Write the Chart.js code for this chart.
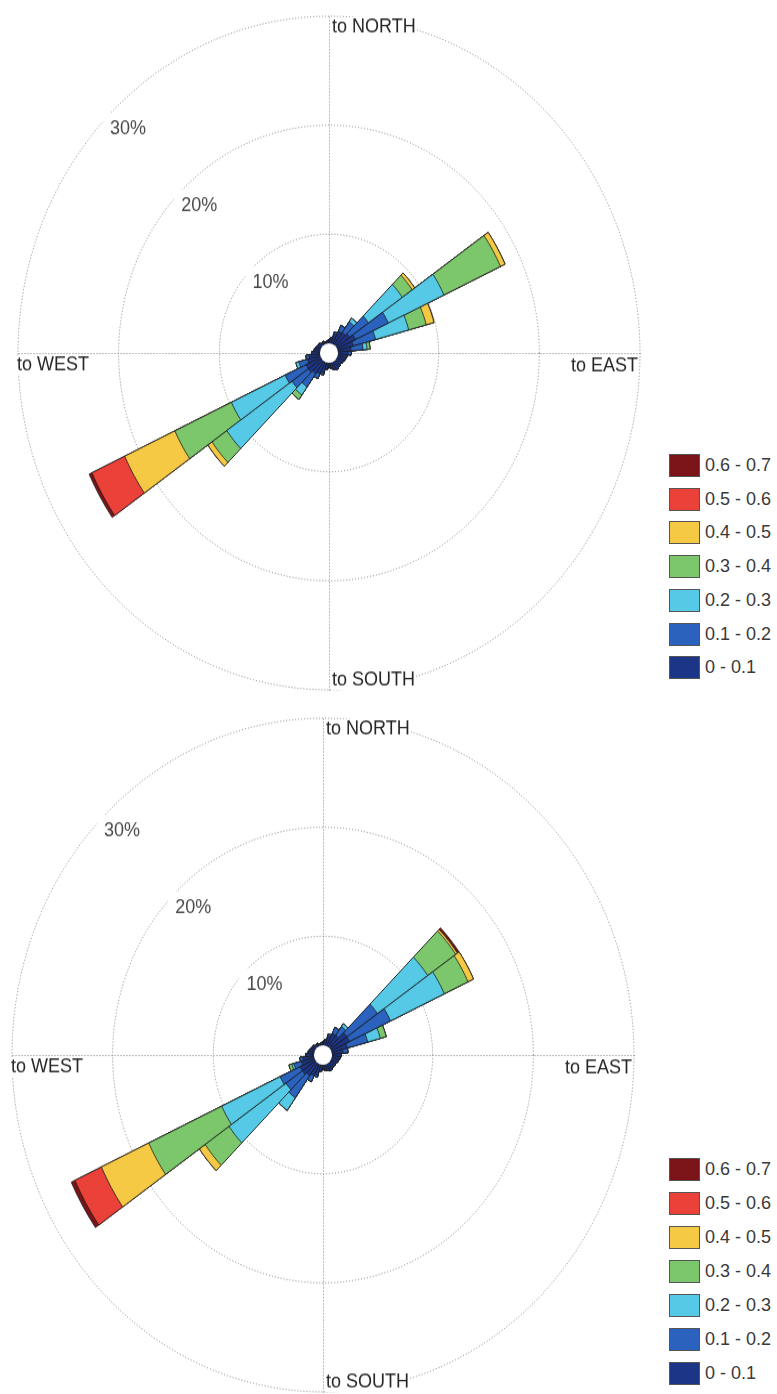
<!DOCTYPE html>
<html>
<head>
<meta charset="utf-8">
<script src="https://cdn.jsdelivr.net/npm/chart.js@4.4.1/dist/chart.umd.min.js"></script>
<style>
    html, body { margin: 0; padding: 0; background: #fff; }
    body { width: 777px; height: 1394px; position: relative; overflow: hidden; font-family: "Liberation Sans", Arial, sans-serif; }
    .rose { position: absolute; width: 640px; height: 640px; transform: scaleY(1.083); transform-origin: 320px 320px; }
    .rose canvas { display: block; }
    .legend { position: absolute; left: 669px; width: 108px; }
    .legend-row { position: absolute; left: 0; height: 23px; white-space: nowrap; }
    .legend-box { position: absolute; left: 0; top: 0; width: 29px; height: 21px; border: 1px solid #555; }
    .legend-text { position: absolute; left: 36px; top: 0; line-height: 23px; font-size: 18px; color: #3a3a3a; }
</style>
</head>
<body>
<div class="rose" style="left:9px; top:33px;"><canvas id="roseTop" width="640" height="640"></canvas></div>
<div class="rose" style="left:3px; top:735px;"><canvas id="roseBottom" width="640" height="640"></canvas></div>
<div class="legend" id="legendTop" style="top:454px;"></div>
<div class="legend" id="legendBottom" style="top:1158px;"></div>
<script>
// direction the wind blows to, degrees clockwise from north
const directions = [0, 10, 20, 30, 40, 50, 60, 70, 80, 90, 100, 110, 120, 130, 140, 150, 160, 170,
    180, 190, 200, 210, 220, 230, 240, 250, 260, 270, 280, 290, 300, 310, 320, 330, 340, 350];
const speedBins = ['0 - 0.1', '0.1 - 0.2', '0.2 - 0.3', '0.3 - 0.4', '0.4 - 0.5', '0.5 - 0.6', '0.6 - 0.7'];
const binColors = ['#1d3587', '#2a62bd', '#55c9e6', '#7cc76c', '#f6c945', '#ea4139', '#7a1418'];
const tickValues = [10, 20, 30];
const compassLabels = ['to NORTH', 'to EAST', 'to SOUTH', 'to WEST'];

// frequency (%) per direction and speed bin - upper rose
const topBin1 = [0.3, 0.5, 0.9, 1.3, 1.4, 1.6, 2.0, 1.6, 1.3, 1.0, 0.9, 0.8, 0.7, 0.6, 0.7, 0.8, 0.7, 0.5,
    0.4, 0.6, 1.0, 1.2, 1.4, 1.6, 1.6, 1.3, 1.1, 0.8, 0.6, 0.5, 0.4, 0.4, 0.3, 0.3, 0.2, 0.2];
const topBin2 = [0, 0, 0.2, 0.6, 1.2, 2.3, 3.6, 2.3, 1.2, 0.3, 0, 0, 0, 0, 0, 0, 0, 0,
    0, 0, 0.2, 0.5, 1.5, 2.0, 2.3, 0.9, 0.3, 0, 0, 0, 0, 0, 0, 0, 0, 0];
const topBin3 = [0, 0, 0, 0, 0.4, 4.1, 6.1, 3.4, 0.4, 0, 0, 0, 0, 0, 0, 0, 0, 0,
    0, 0, 0, 0, 0.9, 7.9, 5.9, 0.3, 0, 0, 0, 0, 0, 0, 0, 0, 0, 0];
const topBin4 = [0, 0, 0, 0, 0, 1.2, 6.2, 1.8, 0.3, 0, 0, 0, 0, 0, 0, 0, 0, 0,
    0, 0, 0, 0, 0.5, 1.8, 6.2, 0, 0, 0, 0, 0, 0, 0, 0, 0, 0, 0];
const topBin5 = [0, 0, 0, 0, 0, 0.3, 0.5, 0.8, 0, 0, 0, 0, 0, 0, 0, 0, 0, 0,
    0, 0, 0, 0, 0, 0.5, 5.5, 0, 0, 0, 0, 0, 0, 0, 0, 0, 0, 0];
const topBin6 = [0, 0, 0, 0, 0, 0, 0, 0, 0, 0, 0, 0, 0, 0, 0, 0, 0, 0,
    0, 0, 0, 0, 0, 0, 3.6, 0, 0, 0, 0, 0, 0, 0, 0, 0, 0, 0];
const topBin7 = [0, 0, 0, 0, 0, 0, 0, 0, 0, 0, 0, 0, 0, 0, 0, 0, 0, 0,
    0, 0, 0, 0, 0, 0, 0.3, 0, 0, 0, 0, 0, 0, 0, 0, 0, 0, 0];

// lower rose
const bottomBin1 = [0.3, 0.5, 0.9, 1.3, 1.3, 2.0, 2.0, 1.6, 1.1, 0.9, 0.8, 0.7, 0.6, 0.6, 0.6, 0.7, 0.6, 0.5,
    0.4, 0.6, 1.0, 1.2, 1.4, 1.6, 1.6, 1.3, 1.1, 0.8, 0.6, 0.5, 0.4, 0.4, 0.3, 0.3, 0.2, 0.2];
const bottomBin2 = [0, 0, 0.2, 0.6, 1.0, 3.7, 4.5, 2.1, 0.5, 0, 0, 0, 0, 0, 0, 0, 0, 0,
    0, 0, 0.2, 0.6, 2.5, 2.0, 2.2, 0.8, 0.3, 0, 0, 0, 0, 0, 0, 0, 0, 0];
const bottomBin3 = [0, 0, 0, 0, 0.3, 6.1, 5.9, 1.3, 0, 0, 0, 0, 0, 0, 0, 0, 0, 0,
    0, 0, 0, 0, 1.4, 6.9, 6.4, 0.2, 0, 0, 0, 0, 0, 0, 0, 0, 0, 0];
const bottomBin4 = [0, 0, 0, 0, 0, 3.4, 2.6, 0.6, 0, 0, 0, 0, 0, 0, 0, 0, 0, 0,
    0, 0, 0, 0, 0, 2.9, 8.0, 0.3, 0, 0, 0, 0, 0, 0, 0, 0, 0, 0];
const bottomBin5 = [0, 0, 0, 0, 0, 0.2, 0.6, 0, 0, 0, 0, 0, 0, 0, 0, 0, 0, 0,
    0, 0, 0, 0, 0, 0.7, 5.2, 0, 0, 0, 0, 0, 0, 0, 0, 0, 0, 0];
const bottomBin6 = [0, 0, 0, 0, 0, 0, 0, 0, 0, 0, 0, 0, 0, 0, 0, 0, 0, 0,
    0, 0, 0, 0, 0, 0, 2.9, 0, 0, 0, 0, 0, 0, 0, 0, 0, 0, 0];
const bottomBin7 = [0, 0, 0, 0, 0, 0.2, 0, 0, 0, 0, 0, 0, 0, 0, 0, 0, 0, 0,
    0, 0, 0, 0, 0, 0, 0.4, 0, 0, 0, 0, 0, 0, 0, 0, 0, 0, 0];

const labelFont = '18px "Liberation Sans", Arial, sans-serif';

// dotted cross, calm circle and the text labels
const roseDecor = {
    id: 'roseDecor',
    beforeDatasetsDraw(chart) {
        const r = chart.scales.r;
        const ctx = chart.ctx;
        const xc = r.xCenter + 0.5, yc = r.yCenter + 0.5, R = r.drawingArea;
        ctx.save();
        ctx.strokeStyle = '#7d7d7d';
        ctx.lineWidth = 1;
        ctx.setLineDash([1, 2]);
        ctx.beginPath();
        ctx.moveTo(xc - R, yc);
        ctx.lineTo(xc + R, yc);
        ctx.moveTo(xc, yc - R);
        ctx.lineTo(xc, yc + R);
        ctx.stroke();
        ctx.restore();
    },
    afterDatasetsDraw(chart) {
        const r = chart.scales.r;
        const ctx = chart.ctx;
        const xc = r.xCenter, yc = r.yCenter, R = r.drawingArea;
        ctx.save();

        ctx.fillStyle = '#fff';
        ctx.beginPath();
        ctx.arc(xc, yc, r.getDistanceFromCenterForValue(0), 0, Math.PI * 2);
        ctx.fill();

        ctx.font = labelFont;
        ctx.textBaseline = 'middle';
        ctx.textAlign = 'left';

        tickValues.forEach(v => {
            const d = r.getDistanceFromCenterForValue(v);
            const px = xc - d * Math.SQRT1_2;
            const py = yc - d * Math.SQRT1_2;
            const label = v + '%';
            const w = ctx.measureText(label).width;
            ctx.fillStyle = '#fff';
            ctx.fillRect(px - 6, py - 2, w + 10, 24);
            ctx.fillStyle = '#4a4a4a';
            ctx.fillText(label, px + 1, py + 13);
        });

        const spots = [
            { x: xc + 3, y: yc - R + 10, align: 'left' },
            { x: xc + R - 2, y: yc + 12, align: 'right' },
            { x: xc + 3, y: yc + R - 9, align: 'left' },
            { x: xc - R - 1, y: yc + 11, align: 'left' }
        ];
        compassLabels.forEach((text, i) => {
            const s = spots[i];
            const w = ctx.measureText(text).width;
            const left = s.align === 'left' ? s.x : s.x - w;
            ctx.fillStyle = '#fff';
            ctx.fillRect(left - 1, s.y - 9, w + 2, 18);
            ctx.fillStyle = '#262626';
            ctx.textAlign = s.align;
            ctx.fillText(text, s.x, s.y);
        });
        ctx.restore();
    }
};

function stackBins(bins) {
    const stacked = [];
    let running = directions.map(() => 0);
    bins.forEach(bin => {
        running = running.map((v, i) => v + bin[i]);
        stacked.push(running);
    });
    return stacked;
}

function createRose(canvasId, bins) {
    const ctx = document.getElementById(canvasId).getContext('2d');
    // smallest running total first: dataset 0 is painted last, on top
    const stacked = stackBins(bins);
    return new Chart(ctx, {
        type: 'polarArea',
        data: {
            labels: directions.map(d => d + '°'),
            datasets: stacked.map((data, k) => ({
                label: speedBins[k],
                data: data,
                backgroundColor: binColors[k],
                borderColor: '#1b1b1b',
                borderWidth: 0.8
            }))
        },
        options: {
            responsive: false,
            animation: false,
            layout: { padding: 9 },
            plugins: {
                legend: { display: false },
                tooltip: { enabled: false }
            },
            scales: {
                r: {
                    min: -0.9,
                    max: 30,
                    startAngle: -5,
                    afterBuildTicks: scale => {
                        scale.ticks = tickValues.map(value => ({ value }));
                    },
                    ticks: { display: false },
                    grid: { circular: true, color: '#7d7d7d', lineWidth: 1 },
                    border: { dash: [1, 2] },
                    angleLines: { display: false },
                    pointLabels: { display: false }
                }
            }
        },
        plugins: [roseDecor]
    });
}

function buildLegend(id, rowGap) {
    const el = document.getElementById(id);
    for (let k = speedBins.length - 1; k >= 0; k--) {
        const row = document.createElement('div');
        row.className = 'legend-row';
        row.style.top = ((speedBins.length - 1 - k) * rowGap) + 'px';
        const box = document.createElement('span');
        box.className = 'legend-box';
        box.style.background = binColors[k];
        const txt = document.createElement('span');
        txt.className = 'legend-text';
        txt.textContent = speedBins[k];
        row.appendChild(box);
        row.appendChild(txt);
        el.appendChild(row);
    }
}

document.addEventListener('DOMContentLoaded', function() {
    createRose('roseTop', [topBin1, topBin2, topBin3, topBin4, topBin5, topBin6, topBin7]);
    createRose('roseBottom', [bottomBin1, bottomBin2, bottomBin3, bottomBin4, bottomBin5, bottomBin6, bottomBin7]);
    buildLegend('legendTop', 33.7);
    buildLegend('legendBottom', 34);
});
</script>
</body>
</html>
